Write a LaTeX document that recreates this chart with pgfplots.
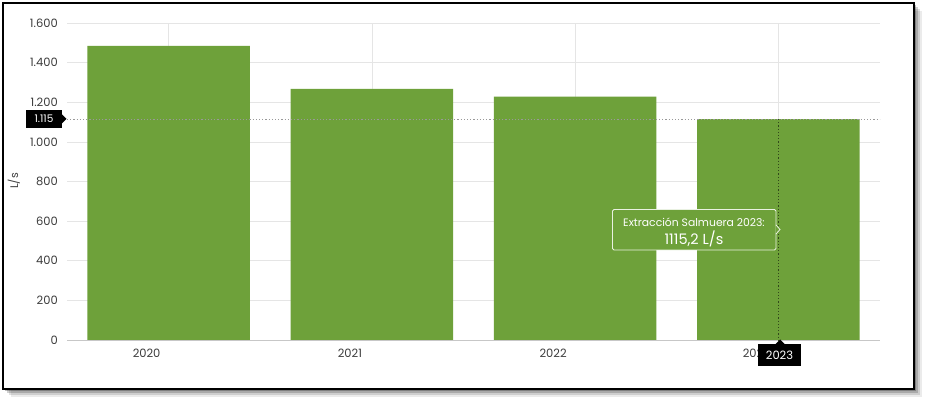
\documentclass[border=0pt]{standalone}
\usepackage{fontspec}
\setmainfont{Poppins}
\usepackage{pgfplots}
\pgfplotsset{compat=1.18}
\definecolor{barg}{RGB}{110,161,58}
\definecolor{tick}{RGB}{60,60,60}

\begin{document}
\begin{tikzpicture}[x=1pt, y=1pt]
  \useasboundingbox (0,0) rectangle (927,402);
  % frame with soft shadow
  \foreach \o/\op in {8/0.08, 6/0.12, 4/0.18, 2/0.25} {
    \fill[black, opacity=\op] (3+\o,13-\o) rectangle (914+\o,399-\o);
  }
  \fill[white] (3,13) rectangle (914,399);
  \draw[black, line width=1.1pt] (3,13) rectangle (914,399);

  \begin{axis}[
    at={(67pt,62pt)}, anchor=south west,
    scale only axis, width=813pt, height=317pt,
    xmin=-0.5, xmax=3.5, ymin=0, ymax=1600,
    xtick={0,1,2,3}, xticklabels={2020,2021,2022,2023},
    ytick={0,200,...,1600},
    xmajorgrids, ymajorgrids,
    grid style={black!10, line width=0.7pt},
    major tick length=0pt,
    axis line style={draw=none},
    tick label style={font=\fontsize{11.5}{13}\selectfont, color=tick, inner sep=0pt},
    yticklabel style={anchor=east, xshift=-9pt},
    xticklabel style={anchor=north, yshift=-9pt, xshift=-22pt},
    /pgf/number format/.cd, 1000 sep={.}, assume math mode=true,
  ]
  \addplot[ybar, bar width=0.8, fill=barg, draw=none] coordinates {
    (0,1485) (1,1268) (2,1228) (3,1115.2)
  };
  \draw[black!22, line width=0.8pt] (axis cs:-0.5,0) -- (axis cs:3.5,0);
  \draw[black!40, dash pattern=on 1.2pt off 2pt, line width=0.7pt] (axis cs:-0.5,1115.2) -- (axis cs:3.5,1115.2);
  \draw[barg!45!black, dash pattern=on 1.2pt off 2pt, line width=0.8pt] (axis cs:3,1115.2) -- (axis cs:3,0);
  \end{axis}

  % y label
  \node[rotate=90, font=\fontsize{11}{13}\selectfont, text=tick] at (14,221) {L/s};

  % crosshair label on y axis
  \fill[black] (26,274) rectangle (62,292);
  \fill[black] (62,287.5) -- (66.5,283) -- (62,278.5) -- cycle;
  \node[text=white, font=\fontsize{10.5}{12}\selectfont] at (44,283) {1.115};

  % crosshair label on x axis
  \fill[black] (758,36) rectangle (801,58);
  \fill[black] (775.5,58) -- (780,62.5) -- (784.5,58) -- cycle;
  \node[text=white, font=\fontsize{11.5}{13}\selectfont] at (779.5,47) {2023};

  % tooltip
  \draw[white!85!barg, fill=barg, line width=0.8pt, rounded corners=1.5pt]
    (612.5,152) rectangle (776,192.5);
  \fill[barg] (775.5,177) -- (780,172.5) -- (775.5,168) -- cycle;
  \draw[white!85!barg, line width=0.8pt] (776,177) -- (780,172.5) -- (776,168);
  \node[text=white, font=\fontsize{10.8}{12}\selectfont] at (694,180) {Extracción Salmuera 2023:};
  \node[text=white, font=\fontsize{14.5}{16}\selectfont] at (694,163.5) {1115,2 L/s};
\end{tikzpicture}
\end{document}
